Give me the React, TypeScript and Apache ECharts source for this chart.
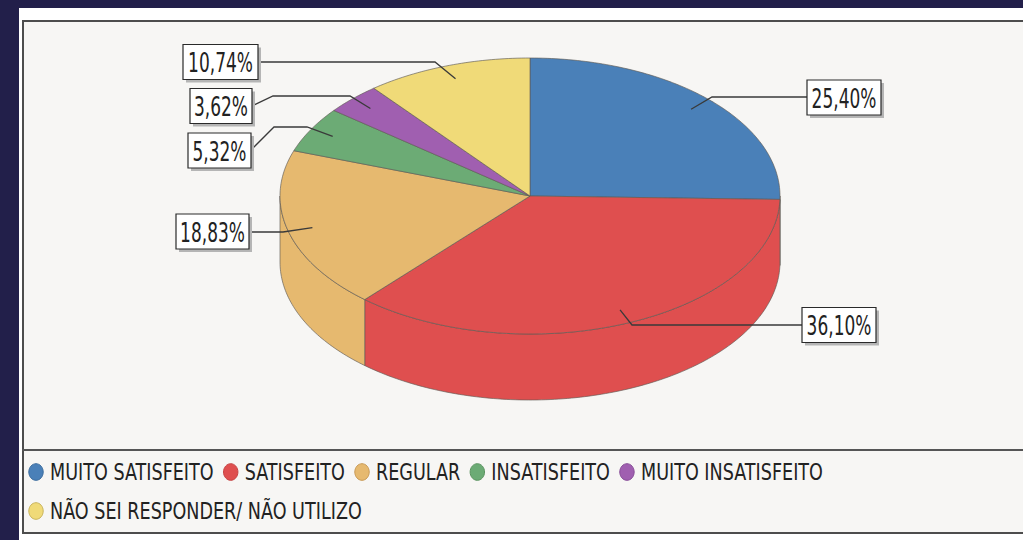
import React, { useEffect, useRef } from "react";
import * as echarts from "echarts";

// ---- data ----
const categories = [
  "MUITO SATISFEITO",
  "SATISFEITO",
  "REGULAR",
  "INSATISFEITO",
  "MUITO INSATISFEITO",
  "NÃO SEI RESPONDER/ NÃO UTILIZO",
];
const values = [25.4, 36.1, 18.83, 5.32, 3.62, 10.74];
const valueLabels = ["25,40%", "36,10%", "18,83%", "5,32%", "3,62%", "10,74%"];

// ---- styles / layout ----
const colors = ["#4a80b8", "#df4f4f", "#e6b96f", "#6cab75", "#a05fb0", "#f0da78"];
const legendStroke = ["#3d6d9e", "#c54242", "#c99a55", "#5a935f", "#884d98", "#c9b45c"];
const labelBoxes: number[][] = [
  [844, 97.5, 74],
  [839, 325, 74],
  [212.5, 231.5, 73],
  [219.5, 150.5, 63],
  [221, 106, 62],
  [220.5, 62, 75],
];
const leaderPaths: number[][][] = [
  [[712, 97], [807, 97]],
  [[632, 325], [802, 325]],
  [[283, 232], [249, 232]],
  [[307, 127], [274, 127], [251, 150]],
  [[350, 96], [273, 96], [252, 106]],
  [[435, 62], [258, 62]],
];
const CX = 530;
const CY = 196;
const RX = 250;
const RY = 138;
const DEPTH = 66;
const LEGEND_FONT_SIZE = 17.6;
const FONT = "'DejaVu Sans', 'Liberation Sans', sans-serif";

export default function App() {
  const ref = useRef<HTMLDivElement>(null);

  useEffect(() => {
    if (!ref.current) return;
    const chart = echarts.init(ref.current, undefined, { renderer: "svg" });
    const total = values.reduce((a, b) => a + b, 0);
    const starts: number[] = [];
    let acc = 0;
    values.forEach((v) => {
      starts.push(acc);
      acc += v;
    });

    const pt = (t: number, dy = 0) => [CX + RX * Math.sin(t), CY - RY * Math.cos(t) + dy];
    const arc = (a: number, b: number, dy = 0) => {
      const n = Math.max(2, Math.ceil(((b - a) * 180) / Math.PI));
      const out: number[][] = [];
      for (let k = 0; k <= n; k++) out.push(pt(a + ((b - a) * k) / n, dy));
      return out;
    };

    // legend built with graphic
    const canvas = document.createElement("canvas");
    const ctx = canvas.getContext("2d")!;
    ctx.font = `${LEGEND_FONT_SIZE}px 'DejaVu Sans'`;
    const legendEls: any[] = [];
    let lx = 36;
    let ly = 472;
    categories.forEach((c, i) => {
      const w = ctx.measureText(c).width;
      if (lx + 14 + w > 1000) {
        lx = 36;
        ly += 39;
      }
      legendEls.push({
        type: "ellipse",
        shape: { cx: lx, cy: ly, rx: 7.2, ry: 8.3 },
        style: { fill: colors[i], stroke: legendStroke[i], lineWidth: 1 },
        z: 10,
      });
      legendEls.push({
        type: "text",
        x: lx + 14,
        y: ly,
        scaleY: 1.26,
        style: {
          text: c,
          fill: "#222",
          fontSize: LEGEND_FONT_SIZE,
          fontFamily: "DejaVu Sans",
          align: "left",
          verticalAlign: "middle",
        },
        z: 10,
      });
      lx = lx + 14 + w + 17;
    });

    chart.setOption({
      animation: false,
      graphic: [
        { type: "rect", shape: { x: 0, y: 0, width: 1023, height: 540 }, style: { fill: "#221f4a" }, z: -10 },
        { type: "rect", shape: { x: 19, y: 8, width: 1010, height: 540 }, style: { fill: "#ffffff" }, z: -9 },
        {
          type: "rect",
          shape: { x: 23, y: 21, width: 1010, height: 512 },
          style: { fill: "#f7f6f4", stroke: "#4d4d4d", lineWidth: 2 },
          z: -8,
        },
        { type: "line", shape: { x1: 22, y1: 450, x2: 1023, y2: 450 }, style: { stroke: "#555", lineWidth: 2 }, z: -7 },
        ...legendEls,
      ],
      series: [
        {
          type: "custom",
          coordinateSystem: "none",
          data: values.map((v, i) => ({ value: v, name: categories[i] })),
          renderItem: (params: any, api: any) => {
            const i = params.dataIndex;
            const v = api.value(0);
            const t1 = (starts[i] / total) * Math.PI * 2;
            const t2 = ((starts[i] + v) / total) * Math.PI * 2;
            const children: any[] = [];
            const edge = { stroke: "rgba(95,90,85,0.65)", lineWidth: 1 };
            // side face (front half only)
            const s = Math.max(t1, Math.PI / 2);
            const e = Math.min(t2, (Math.PI * 3) / 2);
            if (e > s) {
              const topArc = arc(s, e);
              const botArc = arc(s, e, DEPTH).reverse();
              children.push({
                type: "polygon",
                shape: { points: topArc.concat(botArc) },
                style: { fill: colors[i], ...edge },
                z2: 1,
              });
            }
            // top face
            children.push({
              type: "polygon",
              shape: { points: [[CX, CY]].concat(arc(t1, t2)) },
              style: { fill: colors[i], ...edge },
              z2: 2,
            });
            // leader line
            const mid = (t1 + t2) / 2;
            const anchor = [CX + 0.9 * RX * Math.sin(mid), CY - 0.9 * RY * Math.cos(mid)];
            children.push({
              type: "polyline",
              shape: { points: [anchor].concat(leaderPaths[i]) },
              style: { stroke: "#3a3a3a", lineWidth: 1.3, fill: "none" },
              z2: 10,
            });
            const [bx, by, bw] = labelBoxes[i];
            const bh = 35;
            children.push({
              type: "rect",
              shape: { x: bx - bw / 2 + 3, y: by - bh / 2 + 3, width: bw, height: bh },
              style: { fill: "#b5b5b5" },
              z2: 11,
            });
            children.push({
              type: "rect",
              shape: { x: bx - bw / 2, y: by - bh / 2, width: bw, height: bh },
              style: { fill: "#ffffff", stroke: "#2a2a2a", lineWidth: 1.2 },
              z2: 12,
            });
            children.push({
              type: "text",
              x: bx,
              y: by + 0.5,
              scaleY: 1.6,
              style: {
                text: valueLabels[i],
                fill: "#222",
                fontSize: 17,
                fontFamily: "DejaVu Sans",
                align: "center",
                verticalAlign: "middle",
              },
              z2: 13,
            });
            return { type: "group", children };
          },
        },
      ],
    });
    return () => chart.dispose();
  }, []);

  return (
    <div
      ref={ref}
      style={{ position: "absolute", left: 0, top: 0, width: 1023, height: 540, fontFamily: FONT }}
    />
  );
}
